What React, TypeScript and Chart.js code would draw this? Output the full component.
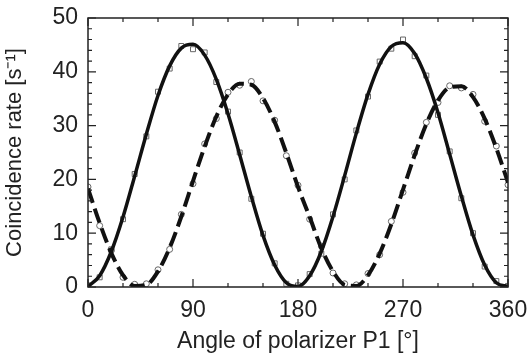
import React, { useEffect, useRef } from "react";
import { Chart, registerables } from "chart.js";

Chart.register(...registerables);

const angles = [0, 10, 20, 30, 40, 50, 60, 70, 80, 90, 100, 110, 120, 130, 140, 150, 160, 170, 180,
  190, 200, 210, 220, 230, 240, 250, 260, 270, 280, 290, 300, 310, 320, 330, 340, 350, 360];

// fitted curves
const fitSolid = [0.1, 2.1, 6.6, 13.0, 20.6, 28.4, 35.6, 41.1, 44.4, 45.1, 43.1, 38.6, 32.2, 24.6, 16.8, 9.6, 4.1, 0.8, 0.1,
  2.1, 6.6, 13.1, 20.7, 28.6, 35.8, 41.4, 44.7, 45.4, 43.4, 38.8, 32.4, 24.7, 16.9, 9.7, 4.1, 0.8, 0.1];
const fitDashed = [18.3, 11.9, 6.3, 2.2, 0.2, 0.4, 2.9, 7.3, 13.1, 19.7, 26.1, 31.7, 35.8, 37.8, 37.6, 35.1, 30.7, 24.9, 18.6,
  13.0, 7.2, 2.9, 0.4, 0.2, 2.2, 6.2, 11.7, 18.1, 24.5, 30.3, 34.7, 37.1, 37.3, 35.3, 31.3, 25.8, 19.4];

// measured points
const measSquares = [0.3, 1.8, 7.0, 12.6, 21.0, 28.0, 36.3, 40.6, 44.8, 44.2, 43.6, 38.1, 32.6, 25.0, 16.4, 9.9, 4.4, 0.6, 0.3,
  2.4, 6.2, 13.5, 20.0, 29.1, 35.4, 41.9, 44.3, 46.0, 42.9, 39.3, 32.0, 25.2, 16.5, 10.0, 3.8, 1.1, 0.2];
const measCircles = [18.6, 11.4, 6.8, 1.8, 0.5, 0.6, 3.2, 7.0, 13.5, 19.2, 26.6, 31.3, 36.2, 37.5, 38.2, 34.6, 31.0, 24.4, 18.9,
  12.6, 7.6, 2.6, 0.6, 0.4, 2.5, 6.0, 12.2, 17.6, 24.9, 30.6, 34.3, 37.4, 37.0, 35.8, 30.8, 26.2, 19.0];

const xTicks = [0, 90, 180, 270, 360];
const yTicks = [0, 10, 20, 30, 40, 50];
const xMinorStep = 30;
const yMinorStep = 2;

const pts = (ys: number[]) => ys.map((v, i) => ({ x: angles[i], y: v }));

const framePlugin = {
  id: "frame",
  afterDatasetsDraw(chart: any) {
    const { ctx, chartArea, scales } = chart;
    const { left, right, top, bottom } = chartArea;
    const x = scales.x;
    const y = scales.y;
    ctx.save();
    ctx.strokeStyle = "#222";
    ctx.lineWidth = 1.5;
    ctx.strokeRect(left, top, right - left, bottom - top);
    ctx.lineWidth = 1.2;
    ctx.beginPath();
    for (let v = 0; v <= 360; v += xMinorStep) {
      const px = x.getPixelForValue(v);
      const len = xTicks.includes(v) ? 8 : 4;
      ctx.moveTo(px, bottom);
      ctx.lineTo(px, bottom - len);
      ctx.moveTo(px, top);
      ctx.lineTo(px, top + len);
    }
    for (let v = 0; v <= 50; v += yMinorStep) {
      const py = y.getPixelForValue(v);
      const len = yTicks.includes(v) ? 8 : 4;
      ctx.moveTo(left, py);
      ctx.lineTo(left + len, py);
      ctx.moveTo(right, py);
      ctx.lineTo(right - len, py);
    }
    ctx.stroke();
    ctx.restore();
  },
};

export default function App() {
  const ref = useRef<HTMLCanvasElement>(null);
  useEffect(() => {
    document.body.style.margin = "0";
    const font = "'Liberation Sans', Arial, sans-serif";
    const chart = new Chart(ref.current!, {
      type: "scatter",
      data: {
        datasets: [
          {
            label: "fit1",
            data: pts(fitSolid),
            showLine: true,
            borderColor: "#111",
            borderWidth: 3.5,
            pointRadius: 0,
            cubicInterpolationMode: "monotone",
            order: 1,
          },
          {
            label: "fit2",
            data: pts(fitDashed),
            showLine: true,
            borderColor: "#111",
            borderWidth: 4,
            borderDash: [15, 6],
            pointRadius: 0,
            cubicInterpolationMode: "monotone",
            order: 1,
          },
          {
            label: "squares",
            data: pts(measSquares),
            showLine: false,
            pointStyle: "rect",
            pointRadius: 3.5,
            pointBorderColor: "#666",
            pointBackgroundColor: "#fff",
            pointBorderWidth: 1,
            order: 2,
          },
          {
            label: "circles",
            data: pts(measCircles),
            showLine: false,
            pointStyle: "circle",
            pointRadius: 3,
            pointBorderColor: "#666",
            pointBackgroundColor: "#fff",
            pointBorderWidth: 1,
            order: 2,
          },
        ],
      },
      options: {
        animation: false,
        responsive: false,
        layout: { padding: { left: 0, right: 24, top: 18, bottom: 0 } },
        plugins: { legend: { display: false }, tooltip: { enabled: false } },
        scales: {
          x: {
            type: "linear",
            min: 0,
            max: 360,
            afterBuildTicks: (s: any) => { s.ticks = xTicks.map((v) => ({ value: v })); },
            afterFit: (s: any) => { s.height = 69; s.paddingLeft = 0; s.paddingRight = 0; },
            grid: { display: false, drawTicks: false },
            border: { display: false },
            ticks: { color: "#222", font: { family: font, size: 23 }, padding: 10, maxRotation: 0 },
            title: {
              display: true,
              text: "Angle of polarizer P1 [°]",
              color: "#222",
              font: { family: font, size: 23 },
              padding: { top: 0, bottom: 1 },
            },
          },
          y: {
            type: "linear",
            min: 0,
            max: 50,
            afterBuildTicks: (s: any) => { s.ticks = yTicks.map((v) => ({ value: v })); },
            afterFit: (s: any) => { s.width = 88; s.paddingTop = 0; s.paddingBottom = 0; },
            grid: { display: false, drawTicks: false },
            border: { display: false },
            ticks: { color: "#222", font: { family: font, size: 23 }, padding: 10 },
            title: {
              display: true,
              text: "Coincidence rate [s⁻¹]",
              color: "#222",
              font: { family: font, size: 22 },
              padding: { top: 2, bottom: 0 },
            },
          },
        },
      },
      plugins: [framePlugin],
    });
    return () => chart.destroy();
  }, []);
  return (
    <div style={{ position: "fixed", left: 0, top: 0, width: 532, height: 356, background: "#fff" }}>
      <canvas ref={ref} width={532} height={356} style={{ width: 532, height: 356 }} />
    </div>
  );
}
